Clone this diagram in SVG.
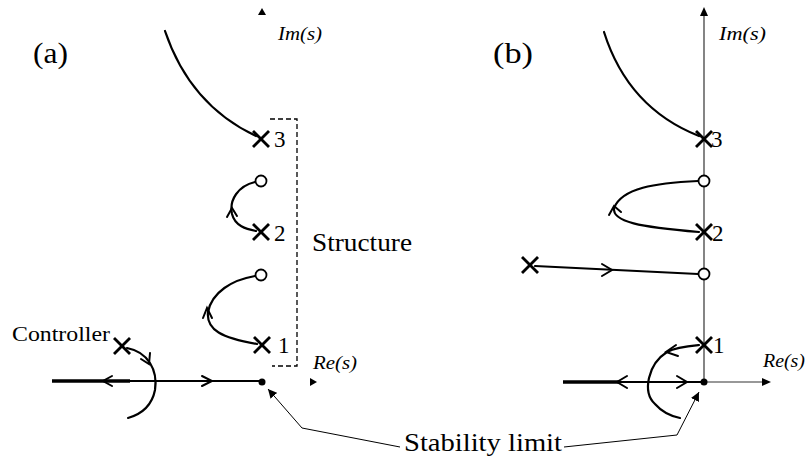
<svg xmlns="http://www.w3.org/2000/svg" width="805" height="464" viewBox="0 0 805 464">
<style>
  .t { font-family: "Liberation Serif", "Times New Roman", serif; fill: #000; }
  .it { font-family: "Liberation Serif", "Times New Roman", serif; font-style: italic; font-size: 19px; fill: #000; }
  .lbl { font-size: 29px; }
  .big { font-size: 26px; }
  .ctl { font-size: 22px; }
  .num { font-size: 23px; }
  .loc { fill: none; stroke: #000; stroke-width: 2.2; stroke-linecap: round; }
  .chev { fill: none; stroke: #000; stroke-width: 2; stroke-linecap: round; stroke-linejoin: miter; }
  .cross { stroke: #000; stroke-width: 2.8; stroke-linecap: butt; }
  .zero { fill: #fff; stroke: #000; stroke-width: 1.8; }
  .axis { fill: none; stroke: #333; stroke-width: 1.2; }
  .thick { stroke: #000; stroke-width: 3.6; }
  .thin { stroke: #000; stroke-width: 2; }
  .lead { fill: none; stroke: #000; stroke-width: 1; marker-end: url(#ah); }
  .dash { fill: none; stroke: #000; stroke-width: 1.3; stroke-dasharray: 5 3; }
  .tri { fill: #000; }
</style>
<defs>
  <marker id="ah" viewBox="0 0 10 10" refX="10" refY="5" markerWidth="9" markerHeight="9" markerUnits="userSpaceOnUse" orient="auto">
    <path d="M0,0 L10,5 L0,10 z" fill="#000"/>
  </marker>
  <g id="x"><line class="cross" x1="-8" y1="-8" x2="8" y2="8"/><line class="cross" x1="-8" y1="8" x2="8" y2="-8"/></g>
</defs>

<!-- Panel (a) -->
<g id="panel-a">
  <text class="t lbl" x="33" y="63" textLength="35" lengthAdjust="spacingAndGlyphs">(a)</text>
  <g id="a-im-axis">
    <path class="tri" d="M262,8 L258,15 L266,15 z"/>
    <text class="it" x="278" y="40" textLength="44" lengthAdjust="spacingAndGlyphs">Im(s)</text>
  </g>
  <g id="a-re-axis">
    <path class="tri" d="M317,382 L310,378 L310,386 z"/>
    <text class="it" x="313" y="369" textLength="44" lengthAdjust="spacingAndGlyphs">Re(s)</text>
  </g>
  <g id="a-structure">
    <path class="dash" d="M270,119 H297 V366 H272"/>
    <text class="t big" x="312" y="251" textLength="100" lengthAdjust="spacingAndGlyphs">Structure</text>
  </g>
  <g id="a-pole3"><use href="#x" x="261" y="139"/><text class="t num" x="274" y="147">3</text></g>
  <g id="a-zero2"><circle class="zero" cx="261" cy="181" r="5.5"/></g>
  <g id="a-pole2"><use href="#x" x="261" y="232"/><text class="t num" x="274" y="241">2</text></g>
  <g id="a-zero1"><circle class="zero" cx="261" cy="275" r="5.5"/></g>
  <g id="a-pole1"><use href="#x" x="262" y="345"/><text class="t num" x="278" y="353">1</text></g>
  <g id="a-controller">
    <use href="#x" x="122" y="346"/>
    <text class="t ctl" x="12" y="341" textLength="98" lengthAdjust="spacingAndGlyphs">Controller</text>
  </g>
  <g id="a-limit"><circle cx="262" cy="382" r="3.5" fill="#000"/></g>
</g>

<!-- Panel (b) -->
<g id="panel-b">
  <text class="t lbl" x="493" y="63" textLength="40" lengthAdjust="spacingAndGlyphs">(b)</text>
  <g id="b-im-axis">
    <line class="axis" x1="704" y1="14" x2="704" y2="382"/>
    <path class="tri" d="M704,7 L700,16 L708,16 z"/>
    <text class="it" x="719" y="40" textLength="47" lengthAdjust="spacingAndGlyphs">Im(s)</text>
  </g>
  <g id="b-re-axis">
    <line class="axis" x1="704" y1="382" x2="763" y2="382"/>
    <path class="tri" d="M771,382 L762,378 L762,386 z"/>
    <text class="it" x="763" y="367" textLength="42" lengthAdjust="spacingAndGlyphs">Re(s)</text>
  </g>
  <g id="b-pole3"><use href="#x" x="704" y="139"/><text class="t num" x="711" y="147">3</text></g>
  <g id="b-zero2"><circle class="zero" cx="704" cy="181" r="5.5"/></g>
  <g id="b-pole2"><use href="#x" x="704" y="232"/><text class="t num" x="712" y="241">2</text></g>
  <g id="b-controller"><use href="#x" x="530" y="265"/></g>
  <g id="b-zero1"><circle class="zero" cx="704" cy="274" r="5.5"/></g>
  <g id="b-pole1"><use href="#x" x="704" y="345"/><text class="t num" x="713" y="353">1</text></g>
  <g id="b-limit"><circle cx="704" cy="382" r="3.5" fill="#000"/></g>
</g>

<text id="stability-label" class="t big" x="404" y="451" textLength="158" lengthAdjust="spacingAndGlyphs">Stability limit</text>

<!-- Connectors: root loci and leaders -->
<g id="connectors">
  <!-- panel a -->
  <path class="loc" d="M165,31 Q190,105 256,136"/>
  <path class="loc" d="M255,182 C238,186 229,200 232,214 C235,226 246,229 256,231"/>
  <path class="chev" d="M227,217 L232,208 L237,216"/>
  <path class="loc" d="M255,276 C232,280 212,292 208,312 C206,330 222,338 257,344"/>
  <path class="chev" d="M203,318 L207,308 L212,318"/>
  <path class="loc" d="M127,348 C148,352 158,370 155,390 C152,405 142,414 128,418"/>
  <path class="chev" d="M141,359 L149,364 L150,353"/>
  <line class="thick" x1="52" y1="381" x2="130" y2="381"/>
  <line class="thin" x1="130" y1="381" x2="262" y2="381"/>
  <path class="chev" d="M112,376 L103,381 L112,386"/>
  <path class="chev" d="M202,376 L212,381 L202,386"/>
  <path class="lead" d="M400,447 L302,428 L268,389"/>
  <!-- panel b -->
  <path class="loc" d="M604,32 Q628,108 699,136"/>
  <path class="loc" d="M698,181 C655,183 622,188 614,208 C612,222 640,227 699,232"/>
  <path class="chev" d="M609,215 L614,206 L621,212"/>
  <path class="loc" d="M535,266 L698,274"/>
  <path class="chev" d="M602,264 L612,270 L602,276"/>
  <path class="loc" d="M699,345 C688,346 676,347 667,352 C648,364 642,392 655,404 C662,412 670,416 680,418"/>
  <path class="chev" d="M676,345 L666,352 L678,356"/>
  <line class="thick" x1="563" y1="382" x2="620" y2="382"/>
  <line class="thin" x1="620" y1="382" x2="704" y2="382"/>
  <path class="chev" d="M627,376 L617,382 L627,388"/>
  <path class="chev" d="M677,376 L687,382 L677,388"/>
  <path class="lead" d="M564,447 L677,435 L699,392"/>
</g>
</svg>
